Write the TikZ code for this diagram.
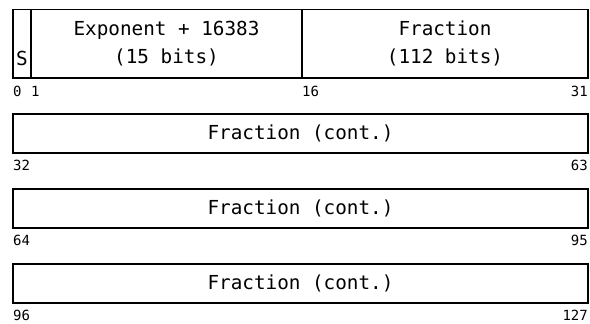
\documentclass[tikz,border=0pt]{standalone}
\usepackage{fontspec}
\setmonofont{DejaVu Sans Mono}
\usetikzlibrary{positioning,calc}

\begin{document}
\begin{tikzpicture}[x=1pt, y=1pt,
  field/.style={draw, line width=1.5pt, inner sep=0pt, outer sep=0pt,
                minimum height=39pt, anchor=north west,
                font=\ttfamily\fontsize{19.3}{28}\selectfont, align=center},
  bitno/.style={font=\ttfamily\fontsize{14}{16}\selectfont, inner sep=0pt}
]
\useasboundingbox (0,0) rectangle (590,324);
% first word: sign, exponent, fraction
\node[field, minimum width=18pt, minimum height=68.5pt] (sign) at (13,314.5) {};
\node[field, minimum width=271pt, minimum height=68.5pt, right=0pt of sign.north east,
      anchor=north west] (expo) {Exponent + 16383\\(15 bits)};
\node[field, minimum width=286pt, minimum height=68.5pt, right=0pt of expo.north east,
      anchor=north west] (frac) {Fraction\\(112 bits)};
\node[font=\ttfamily\fontsize{19.3}{28}\selectfont, inner sep=0pt, anchor=base]
  (signtext) at ($(sign.south)+(0,12)$) {S};
% remaining words
\node[field, minimum width=575pt, below=36pt of sign.south west, anchor=north west]
  (word1) {Fraction (cont.)};
\node[field, minimum width=575pt, below=36pt of word1.south west, anchor=north west]
  (word2) {Fraction (cont.)};
\node[field, minimum width=575pt, below=36pt of word2.south west, anchor=north west]
  (word3) {Fraction (cont.)};
% bit numbers
\node[bitno, anchor=base west] (b0) at ($(sign.south west)+(0,-19)$) {0};
\node[bitno, anchor=base west] (b1) at ($(expo.south west)+(0,-19)$) {1};
\node[bitno, anchor=base west] (b16) at ($(frac.south west)+(0,-19)$) {16};
\node[bitno, anchor=base east] (b31) at ($(frac.south east)+(0,-19)$) {31};
\node[bitno, anchor=base west] (b32) at ($(word1.south west)+(0,-18)$) {32};
\node[bitno, anchor=base east] (b63) at ($(word1.south east)+(0,-18)$) {63};
\node[bitno, anchor=base west] (b64) at ($(word2.south west)+(0,-18)$) {64};
\node[bitno, anchor=base east] (b95) at ($(word2.south east)+(0,-18)$) {95};
\node[bitno, anchor=base west] (b96) at ($(word3.south west)+(0,-18)$) {96};
\node[bitno, anchor=base east] (b127) at ($(word3.south east)+(0,-18)$) {127};
\end{tikzpicture}
\end{document}
